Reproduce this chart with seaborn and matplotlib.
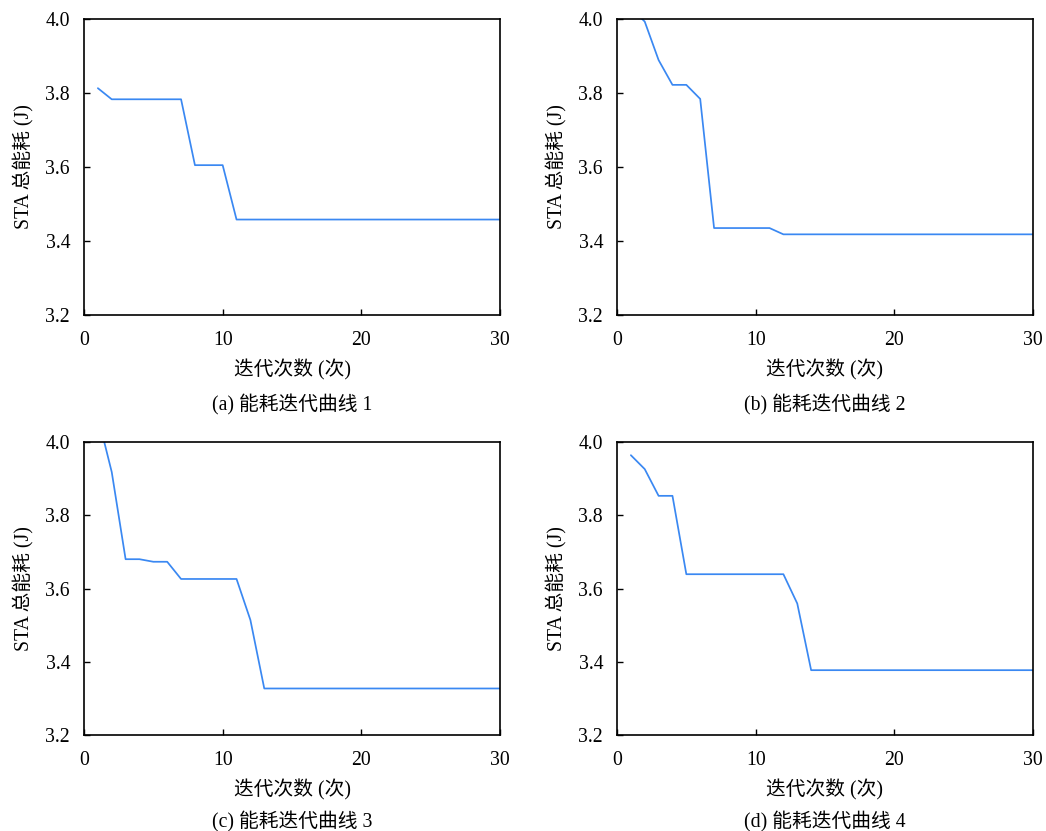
import matplotlib
matplotlib.use("Agg")
import matplotlib.pyplot as plt
import numpy as np
import pandas as pd
import seaborn as sns

sns.set_theme(style="ticks")
plt.rcParams["font.family"] = ["Liberation Serif", "Noto Sans CJK SC"]
plt.rcParams["axes.unicode_minus"] = False

iterations = list(range(1, 31))

energy_1 = [3.813] + [3.783] * 6 + [3.605] * 3 + [3.458] * 20
energy_2 = [4.03, 3.993, 3.889, 3.822, 3.822, 3.784] + [3.435] * 5 + [3.418] * 19
energy_3 = [4.07, 3.918, 3.680, 3.680, 3.673, 3.673] + [3.626] * 5 + [3.514] + [3.327] * 18
energy_4 = [3.964, 3.926, 3.853, 3.853] + [3.639] * 8 + [3.559] + [3.377] * 17

series = [energy_1, energy_2, energy_3, energy_4]
captions = ["(a) 能耗迭代曲线 1", "(b) 能耗迭代曲线 2",
            "(c) 能耗迭代曲线 3", "(d) 能耗迭代曲线 4"]
x_label = "迭代次数 (次)"
y_label = "STA 总能耗 (J)"
x_ticks = [0, 10, 20, 30]
y_ticks = [3.2, 3.4, 3.6, 3.8, 4.0]

W, H = 1046, 831
fig = plt.figure(figsize=(W / 100, H / 100), dpi=100)

# axes boxes in pixels: left, top, right, bottom
boxes = [(84, 19, 500, 315), (617, 19, 1033, 315),
         (84, 442, 500, 735), (617, 442, 1033, 735)]
caption_y = [405, 405, 822, 822]

line_color = "#3a88f2"
fs = 14.2

for vals, cap, (l, t, r, b), cy in zip(series, captions, boxes, caption_y):
    ax = fig.add_axes([l / W, 1 - b / H, (r - l) / W, (b - t) / H])
    df = pd.DataFrame({"iter": iterations, "energy": vals})
    sns.lineplot(data=df, x="iter", y="energy", ax=ax, color=line_color,
                 linewidth=1.25)
    ax.set_xlim(0, 30)
    ax.set_ylim(3.2, 4.0)
    ax.set_xticks(x_ticks)
    ax.set_yticks(y_ticks)
    ax.set_xticklabels([str(v) for v in x_ticks])
    ax.set_yticklabels([f"{v:.1f}" for v in y_ticks])
    ax.tick_params(direction="in", length=4, width=1.0, colors="black",
                   labelsize=fs)
    ax.tick_params(axis="x", pad=11.5)
    ax.tick_params(axis="y", pad=10)
    for sp in ax.spines.values():
        sp.set_color("black")
        sp.set_linewidth(1.2)
    ax.set_xlabel(x_label, fontsize=fs, labelpad=7, color="black")
    ax.set_ylabel(y_label, fontsize=fs, labelpad=8, color="black")
    fig.text((l + r) / 2 / W, 1 - cy / H, cap, ha="center", va="center",
             fontsize=fs, color="black")

fig.savefig("out.png", dpi=100, facecolor="white")
